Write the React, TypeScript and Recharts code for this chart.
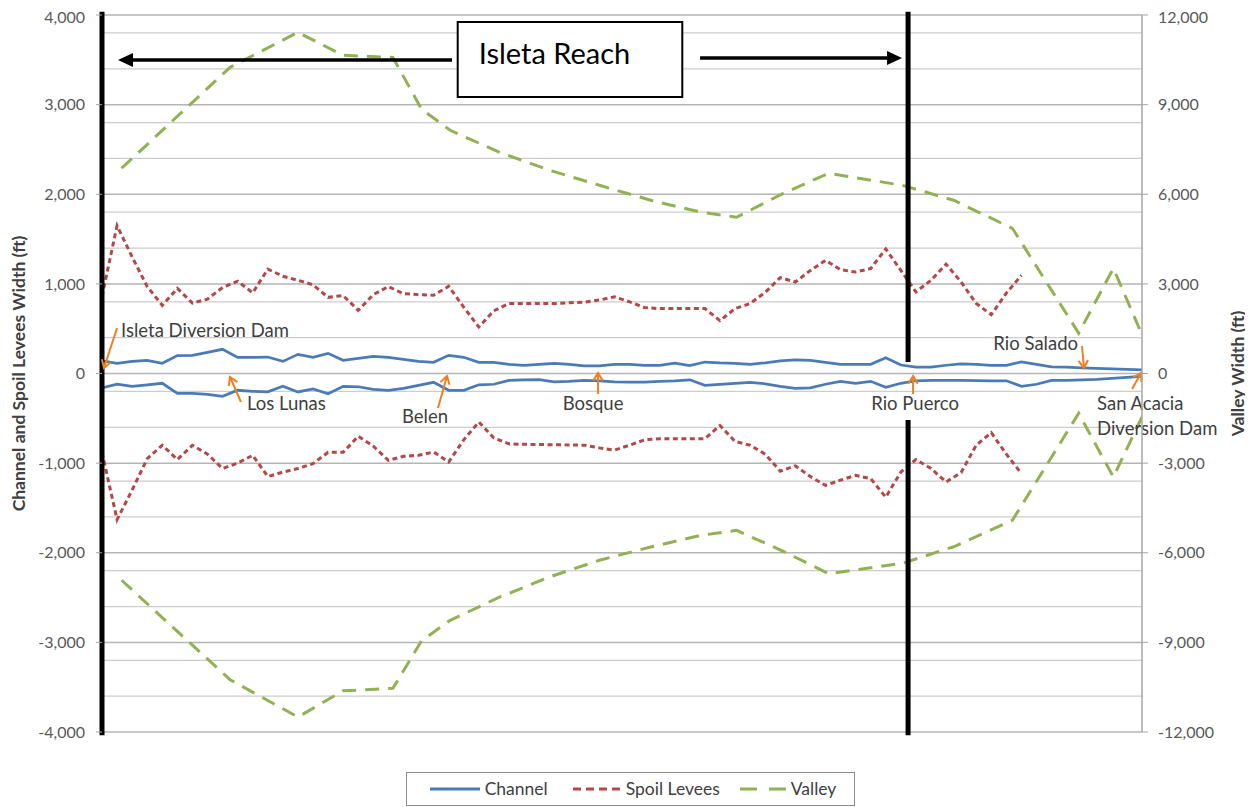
import React from 'react';
import {
  LineChart,
  Line,
  XAxis,
  YAxis,
  CartesianGrid,
  Legend,
  ReferenceLine,
  ReferenceArea,
} from 'recharts';

const FONT = 'Lato, "Open Sans", sans-serif';
const CHANNEL_COLOR = '#4a7bb7';
const LEVEE_COLOR = '#b3484a';
const VALLEY_COLOR = '#93b154';
const NOTE_COLOR = '#ee7f22';

// Survey stations from Isleta Diversion Dam down to San Acacia
const stations = [
  0, 1, 2, 3, 4, 5, 6, 7, 8, 9, 10, 11, 12, 13, 14, 15, 16, 17, 18, 19,
  20, 21, 22, 23, 24, 25, 26, 27, 28, 29, 30, 31, 32, 33, 34, 35, 36, 37, 38, 39,
  40, 41, 42, 43, 44, 45, 46, 47, 48, 49, 50, 51, 52, 53, 54, 55, 56, 57, 58, 59,
  60, 61, 62, 63, 64, 65, 66, 67, 68, 69,
];

// Channel half-widths (ft), plotted either side of the centreline
const channelRight = [
  140, 114, 135, 147, 114, 200, 203, 236, 270, 180, 180, 184, 135, 214, 181, 225, 147, 170, 192, 180,
  158, 136, 125, 203, 181, 125, 125, 103, 92, 103, 114, 103, 86, 86, 103, 103, 92, 92, 115, 88,
  128, 119, 114, 103, 119, 142, 153, 147, 125, 103, 103, 103, 175, 95, 70, 70, 92, 108, 103, 92,
  92, 130, 103, 75, 70, 64, 58, 52, 47, 41,
];
const channelLeft = [
  -160, -120, -143, -126, -109, -221, -221, -232, -254, -187, -199, -204, -143, -206, -171, -227, -143, -148, -176, -187,
  -165, -132, -98, -187, -187, -126, -120, -76, -70, -68, -93, -87, -76, -81, -93, -95, -95, -87, -81, -70,
  -132, -120, -109, -98, -115, -143, -165, -160, -120, -87, -109, -87, -154, -109, -81, -76, -76, -76, -79, -81,
  -81, -143, -120, -76, -76, -70, -65, -54, -42, -31,
];

// Spoil levee offsets (ft), surveyed down to station 61
const leveeRight = [
  860, 1650, 1300, 970, 760, 950, 785, 830, 960, 1030, 900, 1165, 1085, 1040, 990, 850, 870, 705, 880, 970,
  890, 880, 873, 973, 740, 519, 700, 780, 780, 780, 780, 790, 796, 820, 855, 800, 735, 724, 724, 724,
  724, 590, 724, 780, 906, 1070, 1021, 1150, 1263, 1158, 1132, 1171, 1390, 1150, 910, 1040, 1220, 1021, 781, 656,
  897, 1096,
];
const leveeLeft = [
  -880, -1630, -1300, -950, -800, -960, -801, -900, -1060, -1000, -913, -1150, -1100, -1060, -1005, -880, -880, -700, -810, -970,
  -924, -913, -876, -988, -740, -541, -720, -785, -790, -792, -795, -797, -800, -830, -855, -800, -740, -727, -727, -727,
  -727, -580, -758, -800, -900, -1090, -1030, -1150, -1248, -1190, -1136, -1173, -1380, -1100, -960, -1060, -1210, -1105, -800, -660,
  -900, -1117,
];

// Valley margins (ft) on the secondary axis, sampled more sparsely
const valleyStations = [
  1.3, 8.5, 13.0, 16.0, 19.3, 21.2, 23.1, 26.4, 29.7, 33.0, 36.4,
  39.7, 42.1, 45.2, 48.2, 53.1, 56.5, 60.4, 64.8, 67.1, 69,
];
const valleyRight = [
  6870, 10250, 11420, 10650, 10580, 8850, 8140, 7400, 6800, 6300, 5800,
  5400, 5230, 6030, 6700, 6300, 5800, 4860, 1350, 3520, 1300,
];
const valleyLeft = [
  -6920, -10250, -11500, -10620, -10540, -8950, -8260, -7480, -6810, -6250, -5810,
  -5420, -5250, -5950, -6700, -6355, -5800, -4915, -1330, -3465, -1455,
];

const leftTicks = [-4000, -3000, -2000, -1000, 0, 1000, 2000, 3000, 4000];
const rightTicks = [-12000, -9000, -6000, -3000, 0, 3000, 6000, 9000, 12000];
const minorGrid = [
  -3800, -3600, -3400, -3200, -2800, -2600, -2400, -2200, -1800, -1600, -1400, -1200,
  -800, -600, -400, -200, 200, 400, 600, 800, 1200, 1400, 1600, 1800,
  2200, 2400, 2600, 2800, 3200, 3400, 3600, 3800,
];

const channelData = stations.map((s, i) => ({ station: s, right: channelRight[i], left: channelLeft[i] }));
const leveeData = leveeRight.map((v, i) => ({ station: stations[i], right: v, left: leveeLeft[i] }));
const valleyData = valleyStations.map((s, i) => ({ station: s, right: valleyRight[i], left: valleyLeft[i] }));

// Landmark call-outs: arrow from tail to head, in station / left-axis units
const notes = [
  { text: ['Isleta Diversion Dam'], tail: [1.0, 508], head: [0.13, 61], anchor: 'start', dx: 4, dy: 2 },
  { text: ['Los Lunas'], tail: [9.22, -318], head: [8.49, -39], anchor: 'start', dx: 6, dy: 1 },
  { text: ['Belen'], tail: [22.29, -385], head: [22.89, -28], anchor: 'middle', dx: -13, dy: 8 },
  { text: ['Bosque'], tail: [32.91, -229], head: [32.91, 6], anchor: 'middle', dx: -5, dy: 9 },
  { text: ['Rio Puerco'], tail: [53.81, -229], head: [53.81, -28], anchor: 'middle', dx: 2, dy: 9 },
  { text: ['Rio Salado'], tail: [65.02, 307], head: [65.15, 61], anchor: 'end', dx: -4, dy: -3 },
  { text: ['San Acacia', 'Diversion Dam'], tail: [68.34, -173], head: [68.94, 6], anchor: 'start', dx: -35, dy: 14 },
];

function NoteArrow(props: any) {
  const { x1, y1, x2, y2, note } = props;
  const ang = Math.atan2(y2 - y1, x2 - x1);
  const len = 9;
  const spread = 0.55;
  const ax = x2 - len * Math.cos(ang - spread);
  const ay = y2 - len * Math.sin(ang - spread);
  const bx = x2 - len * Math.cos(ang + spread);
  const by = y2 - len * Math.sin(ang + spread);
  return (
    <g>
      <line x1={x1} y1={y1} x2={x2} y2={y2} stroke={NOTE_COLOR} strokeWidth={2} />
      <polyline points={`${ax},${ay} ${x2},${y2} ${bx},${by}`} fill="none" stroke={NOTE_COLOR} strokeWidth={2} />
      {note.text.map((t: string, i: number) => (
        <text
          key={t}
          x={x1 + note.dx}
          y={y1 + note.dy + i * 25}
          textAnchor={note.anchor}
          dominantBaseline="central"
          fontFamily={FONT}
          fontSize={18.5}
          fill="#404040"
        >
          {t}
        </text>
      ))}
    </g>
  );
}

function ReachArrow(props: any) {
  const { x1, y1, x2, y2 } = props;
  const dir = Math.sign(x2 - x1);
  const headLen = 15;
  return (
    <g>
      <line x1={x1} y1={y1} x2={x2 - dir * headLen} y2={y2} stroke="#000" strokeWidth={3.5} />
      <polygon points={`${x2},${y2} ${x2 - dir * headLen},${y2 - 7} ${x2 - dir * headLen},${y2 + 7}`} fill="#000" />
    </g>
  );
}

function AxisTitle(props: any) {
  const { viewBox, value, inset } = props;
  const { x, y, width, height } = viewBox;
  const cx = inset >= 0 ? x + inset : x + width + inset;
  const cy = y + height / 2;
  return (
    <text
      x={cx}
      y={cy}
      transform={`rotate(-90, ${cx}, ${cy})`}
      textAnchor="middle"
      dominantBaseline="central"
      fontFamily={FONT}
      fontWeight="bold"
      fontSize={17.5}
      fill="#404040"
    >
      {value}
    </text>
  );
}

const legendItems = [
  { name: 'Channel', color: CHANNEL_COLOR, dash: undefined, w: 50, after: 25 },
  { name: 'Spoil Levees', color: LEVEE_COLOR, dash: '8 5', w: 48, after: 20 },
  { name: 'Valley', color: VALLEY_COLOR, dash: '17 12', w: 46, after: 0 },
];

function LegendBox() {
  return (
    <div
      style={{
        display: 'inline-flex',
        alignItems: 'center',
        boxSizing: 'border-box',
        height: 34,
        padding: '0 18px 0 23px',
        border: '1.5px solid #8c8c8c',
        background: '#fff',
        fontFamily: FONT,
        fontSize: 17.5,
        color: '#404040',
        lineHeight: 1,
      }}
    >
      {legendItems.map((it) => (
        <span key={it.name} style={{ display: 'inline-flex', alignItems: 'center', marginRight: it.after }}>
          <svg width={it.w} height={10} style={{ marginRight: 5 }}>
            <line x1={0} y1={5} x2={it.w} y2={5} stroke={it.color} strokeWidth={3} strokeDasharray={it.dash} />
          </svg>
          {it.name}
        </span>
      ))}
    </div>
  );
}

const tickStyle = { fill: '#595959', fontSize: 16, fontFamily: FONT };
const fmt = (v: number) => v.toLocaleString('en-US');

export default function App() {
  return (
    <div style={{ width: 1245, height: 799 }}>
      <LineChart width={1245} height={799} margin={{ top: 7, right: 0, left: 0, bottom: 41 }} style={{ fontFamily: FONT }}>
        <CartesianGrid yAxisId="left" vertical={false} horizontalValues={minorGrid} stroke="#cdcdcd" strokeWidth={1.3} />
        <CartesianGrid yAxisId="left" vertical={false} horizontalValues={leftTicks} stroke="#b5b5b5" strokeWidth={1.5} />
        <XAxis type="number" dataKey="station" domain={[0, 69]} hide allowDataOverflow />
        <YAxis
          yAxisId="left"
          domain={[-4000, 4000]}
          ticks={leftTicks}
          width={94}
          axisLine={false}
          tickLine={{ stroke: '#a6a6a6' }}
          tickSize={6}
          tickMargin={11}
          tick={tickStyle}
          tickFormatter={fmt}
          label={<AxisTitle value="Channel and Spoil Levees Width (ft)" inset={10} />}
        />
        <YAxis
          yAxisId="right"
          orientation="right"
          domain={[-12000, 12000]}
          ticks={rightTicks}
          width={111}
          axisLine={{ stroke: '#a6a6a6', strokeWidth: 1.5 }}
          tickLine={{ stroke: '#a6a6a6' }}
          tickSize={6}
          tickMargin={10}
          tick={tickStyle}
          tickFormatter={fmt}
          label={<AxisTitle value="Valley Width (ft)" inset={-16} />}
        />

        <Line yAxisId="right" data={valleyData} dataKey="right" name="Valley" stroke={VALLEY_COLOR} strokeWidth={3} strokeDasharray="14 9" dot={false} activeDot={false} isAnimationActive={false} />
        <Line yAxisId="right" data={valleyData} dataKey="left" name="Valley " legendType="none" stroke={VALLEY_COLOR} strokeWidth={3} strokeDasharray="14 9" dot={false} activeDot={false} isAnimationActive={false} />
        <Line yAxisId="left" data={leveeData} dataKey="right" name="Spoil Levees" stroke={LEVEE_COLOR} strokeWidth={3} strokeDasharray="5 3.5" dot={false} activeDot={false} isAnimationActive={false} />
        <Line yAxisId="left" data={leveeData} dataKey="left" name="Spoil Levees " legendType="none" stroke={LEVEE_COLOR} strokeWidth={3} strokeDasharray="5 3.5" dot={false} activeDot={false} isAnimationActive={false} />
        <Line yAxisId="left" data={channelData} dataKey="right" name="Channel" stroke={CHANNEL_COLOR} strokeWidth={2.75} dot={false} activeDot={false} isAnimationActive={false} />
        <Line yAxisId="left" data={channelData} dataKey="left" name="Channel " legendType="none" stroke={CHANNEL_COLOR} strokeWidth={2.75} dot={false} activeDot={false} isAnimationActive={false} />

        {/* reach limits */}
        <ReferenceLine yAxisId="left" ifOverflow="visible" segment={[{ x: 0, y: 4035 }, { x: 0, y: -4035 }]} stroke="#000" strokeWidth={5} />
        <ReferenceLine yAxisId="left" ifOverflow="visible" segment={[{ x: 53.48, y: 4035 }, { x: 53.48, y: 128 }]} stroke="#000" strokeWidth={5} />
        <ReferenceLine yAxisId="left" ifOverflow="visible" segment={[{ x: 53.48, y: -520 }, { x: 53.48, y: -4035 }]} stroke="#000" strokeWidth={5} />
        <ReferenceLine yAxisId="left" ifOverflow="visible" segment={[{ x: 23.22, y: 3498 }, { x: 1.06, y: 3498 }]} shape={(p: any) => <ReachArrow {...p} />} />
        <ReferenceLine yAxisId="left" ifOverflow="visible" segment={[{ x: 39.68, y: 3520 }, { x: 53.08, y: 3520 }]} shape={(p: any) => <ReachArrow {...p} />} />
        <ReferenceArea
          yAxisId="left"
          x1={23.6}
          x2={38.5}
          y1={3085}
          y2={3922}
          fill="#fff"
          fillOpacity={1}
          stroke="#000"
          strokeWidth={2}
          label={{ value: 'Isleta Reach', position: 'insideTopLeft', offset: 21, fontSize: 29, fill: '#000', fontFamily: FONT }}
        />

        {notes.map((n) => (
          <ReferenceLine
            key={n.text[0]}
            yAxisId="left"
            ifOverflow="visible"
            segment={[{ x: n.tail[0], y: n.tail[1] }, { x: n.head[0], y: n.head[1] }]}
            shape={(p: any) => <NoteArrow {...p} note={n} />}
          />
        ))}

        <Legend verticalAlign="bottom" wrapperStyle={{ bottom: 1, textAlign: 'center', paddingRight: 10 }} content={() => <LegendBox />} />
      </LineChart>
    </div>
  );
}
